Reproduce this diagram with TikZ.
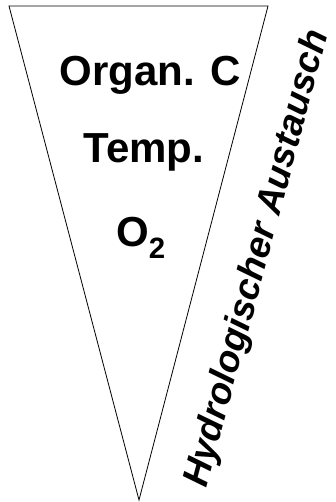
\documentclass[tikz,border=0pt]{standalone}
\usepackage{fontspec}
\setmainfont{Liberation Sans}
\usetikzlibrary{positioning}

\tikzset{
    factor/.style={anchor=base, inner sep=0pt, font=\fontsize{42}{50}\selectfont\bfseries},
    exchange/.style={inner sep=0pt, rotate=75, font=\fontsize{37}{45}\selectfont\bfseries\itshape}
}

\begin{document}
\begin{tikzpicture}[x=1pt, y=1pt]

    \useasboundingbox (0, 0) rectangle (336, 502);

    % Funnel
    \coordinate (tl) at (9, 496);
    \coordinate (tr) at (268, 496);
    \coordinate (apex) at (139, 2);
    \draw[line width=0.8pt] (tl) -- (tr) -- (apex) -- cycle;

    % Factors
    \node[factor] (orgc) at (150, 416) {Organ. C};
    \node[factor] (temp) at (144, 339) {Temp.};
    \node[factor] (oxy) at (141, 255) {O\textsubscript{2}};

    % Annotation along the side
    \node[exchange] (hydro) at (258, 243) {Hydrologischer Austausch};

\end{tikzpicture}
\end{document}
